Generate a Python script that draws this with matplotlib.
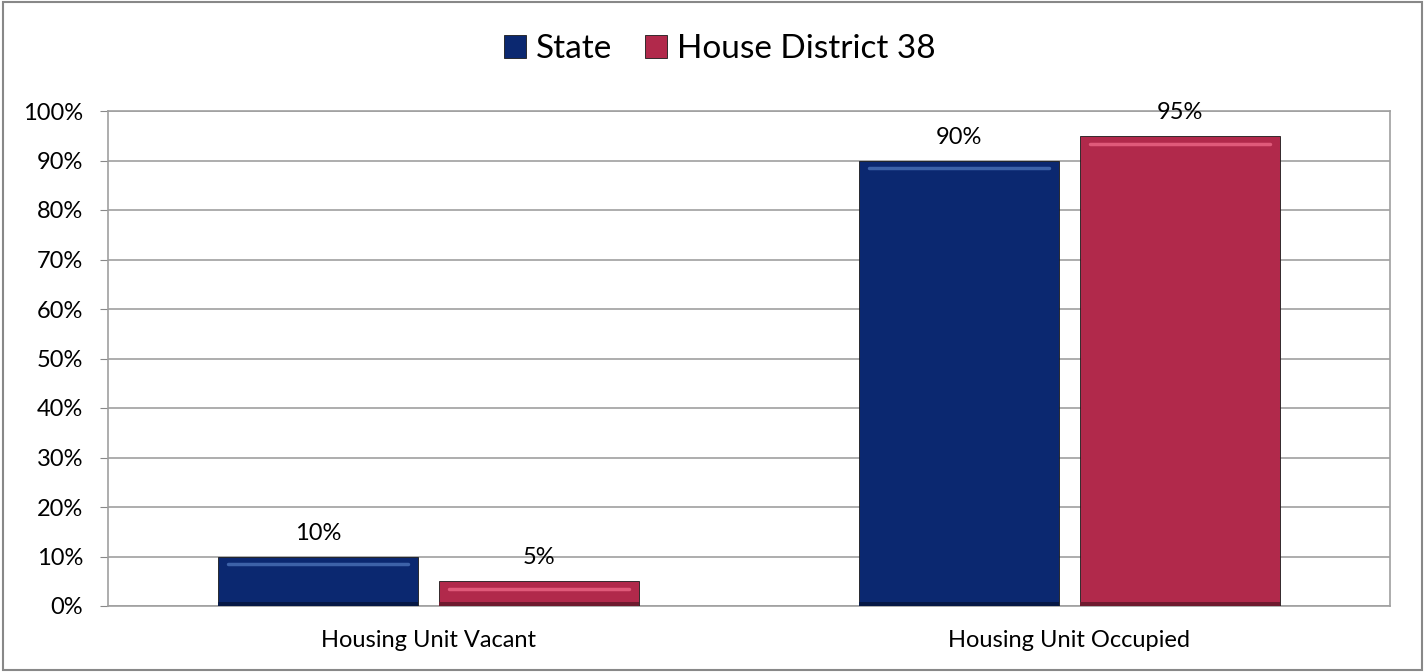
import matplotlib.pyplot as plt
import numpy as np
from matplotlib.patches import Rectangle

plt.rcParams['font.family'] = ['Lato', 'DejaVu Sans']

categories = ["Housing Unit Vacant", "Housing Unit Occupied"]
series_names = ["State", "House District 38"]
state = [10, 90]
district = [5, 95]
colors = ["#0b2870", "#b1294b"]
highlights = ["#3d62a8", "#e05a7a"]
shadows = ["#061845", "#6e1a2e"]
yticks = [0, 10, 20, 30, 40, 50, 60, 70, 80, 90, 100]

fig = plt.figure(figsize=(14.25, 6.72), dpi=100)
ax = fig.add_axes([108 / 1425, 1 - 606 / 672, (1390 - 108) / 1425, (606 - 111) / 672])

x = np.arange(len(categories))
w = 0.312
off = 0.1725
for vals, c, hl, sh, o in zip([state, district], colors, highlights, shadows, [-off, off]):
    bars = ax.bar(x + o, vals, width=w, color=c, edgecolor="#1a1a1a", linewidth=0.6, zorder=3)
    # simple bevel: light line near the top, darker band at the bottom
    for p in bars:
        bx, bw, bh = p.get_x(), p.get_width(), p.get_height()
        ax.plot([bx + bw * 0.05, bx + bw * 0.95], [bh - 1.6, bh - 1.6], color=hl,
                linewidth=2.5, solid_capstyle="round", zorder=4)
        ax.add_patch(Rectangle((bx, 0), bw, 0.8, facecolor=sh, edgecolor="none", zorder=4))
    for xi, v in zip(x + o, vals):
        ax.text(xi, v + 2.6, f"{v}%", ha="center", va="bottom", fontsize=17, zorder=5)

ax.set_xlim(-0.5, 1.5)
ax.set_ylim(0, 100)
ax.set_yticks(yticks)
ax.set_yticklabels([f"{t}%" for t in yticks], fontsize=17)
ax.set_xticks(x)
ax.set_xticklabels(categories, fontsize=17)
ax.tick_params(axis="x", length=0, pad=17)
ax.tick_params(axis="y", length=6, color="#888888", pad=12)
ax.yaxis.grid(True, color="#a0a0a0", linewidth=1.2, zorder=0)
for s in ax.spines.values():
    s.set_color("#a0a0a0")
    s.set_linewidth(1.2)

# legend above the plot area
handles = [Rectangle((0, 0), 1, 1, facecolor=c, edgecolor="#1a1a1a", linewidth=0.6) for c in colors]
fig.legend(handles, series_names, loc="center", bbox_to_anchor=(720 / 1425, 1 - 49 / 672),
           ncol=2, frameon=False, fontsize=24, handlelength=0.66, handleheight=0.66,
           handletextpad=0.3, columnspacing=1.0)

# outer frame
fig.patches.append(Rectangle((0.002, 0.003), 0.996, 0.994, transform=fig.transFigure,
                             fill=False, edgecolor="#888888", linewidth=1.5))

fig.savefig("out.png", dpi=100)
